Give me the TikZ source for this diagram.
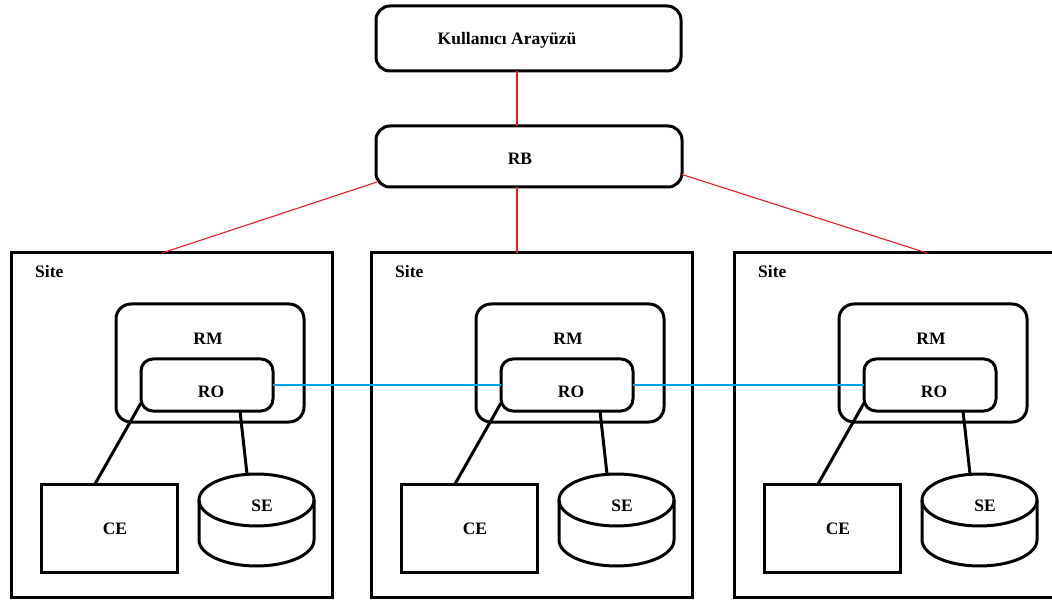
\documentclass[tikz,border=0pt]{standalone}
\usepackage{fontspec}
\setmainfont{Liberation Serif}
\usetikzlibrary{calc}
\definecolor{linkred}{RGB}{237,28,36}
\definecolor{linkblue}{RGB}{0,162,232}
\tikzset{
  box/.style={draw, line width=3pt, inner sep=0pt, outer sep=0pt},
  rbox/.style={box, rounded corners=#1},
  lbl/.style={font=\bfseries\fontsize{17.5}{20}\selectfont, anchor=base, inner sep=0pt},
  redlink/.style={draw=linkred, line width=1.1pt},
  bluelink/.style={draw=linkblue, line width=1.1pt},
  wire/.style={draw, line width=3pt},
  holder/.style={inner sep=0pt, outer sep=0pt},
}
\begin{document}
\begin{tikzpicture}[x=1pt,y=-1pt]
\useasboundingbox (0,0) rectangle (1052,601);
\fill[white] (0,0) rectangle (1052,601);
\clip (0,0) rectangle (1052,601);

% user interface and broker
\node[rbox=14pt, minimum width=305pt, minimum height=65pt] (ka) at (528.5,38.5) {};
\node[lbl] (katext) at (507,45) {Kullanıcı Arayüzü};
\node[rbox=14pt, minimum width=306pt, minimum height=61pt] (rb) at (529,156.5) {};
\node[lbl] (rbtext) at (520,165) {RB};

% three sites, each with RM/RO, CE and SE
\foreach \i/\dx in {1/0,2/360,3/723}{
  \begin{scope}[xshift=\dx pt]
    \node[box, minimum width=321pt, minimum height=344pt] (site\i) at (171.5,425) {};
    \node[lbl, anchor=base west] (sitetext\i) at (35,278) {Site};
    \node[rbox=15pt, minimum width=188pt, minimum height=118pt] (rm\i) at (210,363) {};
    \node[lbl] (rmtext\i) at (208,345) {RM};
    \node[rbox=12pt, minimum width=132pt, minimum height=52pt] (ro\i) at (207,385) {};
    \node[lbl] (rotext\i) at (211,397) {RO};
    \node[box, minimum width=136pt, minimum height=88pt] (ce\i) at (109,528) {};
    \node[lbl] (cetext\i) at (115,534) {CE};
    \node[holder, minimum width=115pt, minimum height=92pt] (se\i) at (256.5,520) {};
    \draw[line width=3pt] ($(se\i.north)+(0,26)$) ellipse [x radius=57.5, y radius=26];
    \draw[line width=3pt] ($(se\i.north west)+(0,26)$) -- ($(se\i.south west)+(0,-26)$)
      arc[start angle=180, end angle=0, x radius=57.5, y radius=26]
      -- ($(se\i.north east)+(0,26)$);
    \node[lbl] (setext\i) at (262,511) {SE};
    \draw[wire] ([yshift=-18pt]ro\i.west) -- ([xshift=-14pt]ce\i.north);
    \draw[wire] ([xshift=33pt]ro\i.south) -- ([xshift=-9.5pt]se\i.north);
  \end{scope}
}

% RO to RO links
\draw[bluelink] (ro1.east) -- (ro2.west);
\draw[bluelink] (ro2.east) -- (ro3.west);

% broker links
\draw[redlink] ([xshift=-11.5pt]ka.south) -- ([xshift=-12pt]rb.north);
\draw[redlink] ([xshift=-12pt]rb.south) -- ([xshift=-12pt]rb.south |- site2.north);
\draw[redlink] ([xshift=1pt,yshift=5pt]rb.south west) -- ([xshift=-9.5pt]site1.north);
\draw[redlink] ([yshift=-18pt]rb.east) -- ([xshift=32.5pt]site3.north);
\end{tikzpicture}
\end{document}
